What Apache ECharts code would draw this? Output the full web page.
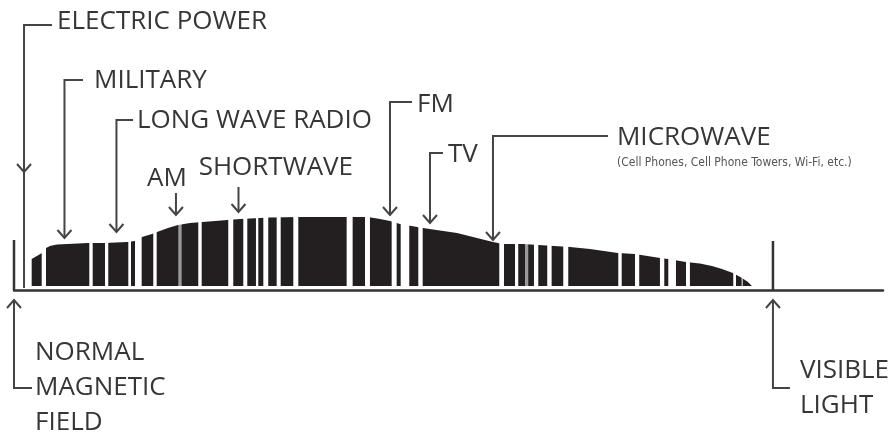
<!DOCTYPE html>
<html><head><meta charset="utf-8">
<script src="https://cdn.jsdelivr.net/npm/echarts@6/dist/echarts.min.js"></script>
<style>html,body{margin:0;padding:0;background:#fff}#c{width:893px;height:438px}</style>
</head><body><div id="c"></div>
<script>
// Spectrum position: 0 = normal magnetic field, 100 = visible light
// Envelope of the radio-frequency band (height above baseline)
const envX = [2.33, 2.33, 3.69, 4.22, 4.74, 5.67, 9.75, 11.99, 14.89, 15.94, 16.86, 18.18, 18.84, 20.29, 21.61, 23.19, 26.48, 29.78, 33.73, 37.68, 46.64, 48.22, 49.54, 50.86, 53.89, 58.37, 63.11, 64.43, 67.06, 73.25, 75.89, 79.58, 81.82, 85.11, 86.17, 88.54, 90.38, 91.96, 93.28, 94.73, 95.92, 96.71, 97.23];
const envTop = [4, 31, 37, 42, 44, 45.5, 47, 47, 48, 49, 53, 56, 58, 62, 65, 67, 69, 71, 72.5, 73, 73, 71, 69, 66, 62, 57, 48, 46, 46, 43, 41, 37, 36, 32, 31, 28, 26.5, 24, 21, 17, 12, 8, 4];
const bandBase = 4;
// White separations between individual bands
const gapStart = [3.65, 9.92, 11.99, 15.06, 15.94, 18.35, 21.65, 24.28, 28.23, 30.21, 31.88, 32.85, 34.61, 36.80, 43.83, 46.25, 49.76, 50.95, 53.27, 63.94, 66.01, 67.33, 68.51, 70.26, 72.37, 79.62, 81.82, 85.11, 86.21, 88.54, 94.77, 95.88];
const gapEnd   = [4.22, 10.37, 12.42, 15.42, 16.82, 18.80, 22.09, 24.73, 28.89, 30.74, 32.19, 33.50, 35.14, 37.46, 44.62, 46.90, 50.42, 52.08, 53.85, 64.56, 66.44, 67.76, 69.08, 70.84, 73.03, 80.07, 82.38, 85.68, 87.22, 89.06, 95.13, 96.01];
const gapFaint = [0, 0, 0, 0, 0, 0, 1, 0, 0, 0, 0, 0, 0, 0, 0, 0, 0, 0, 0, 0, 0, 1, 0, 0, 0, 0, 0, 0, 0, 0, 0, 0];
// Reference stems
const stemX = [0, 100];
const stemTop = [50, 49];
// Callouts
const calloutLabel = ['ELECTRIC POWER', 'MILITARY', 'LONG WAVE RADIO', 'AM', 'SHORTWAVE', 'FM', 'TV', 'MICROWAVE', 'NORMAL\nMAGNETIC\nFIELD', 'VISIBLE\nLIGHT'];
const calloutSub = ['', '', '', '', '', '', '', '(Cell Phones, Cell Phone Towers, Wi-Fi, etc.)', '', ''];
const calloutX      = [1.32, 6.65, 13.5, 21.34, 29.58, 49.54, 54.81, 63.11, 0, 100];
const calloutStartY = [265, 210, 170, 97, 103, 188, 137, 154, -98, -98];
const calloutTipY   = [2, 52, 58, 75, 78, 75, 67, 50, -10, -10];
const calloutElbowX = [5.01, 9.09, 15.68, null, null, 52.44, 56.52, 78.26, 2.37, 102.24];
const calloutTextX  = [5.67, 10.54, 16.2, 20.16, 34.5, 53.1, 57.18, 79.45, 2.77, 103.56];
const calloutTextY  = [268.5, 209, 169, 111, 122, 185, 135, 152, -98, -98];
const calloutAlign  = ['left', 'left', 'left', 'center', 'center', 'left', 'left', 'left', 'left', 'left'];
const calloutArrowY = [118, 52, 58, 75, 78, 75, 67, 50, -10, -10];

const INK = '#231f20', LINE = '#444', TXT = '#363636';
const FONT = "'Open Sans', 'Noto Sans', sans-serif";

const chart = echarts.init(document.getElementById('c'), null, {renderer: 'canvas'});
chart.setOption({
  animation: false,
  backgroundColor: '#fff',
  grid: {left: 14, right: 10, top: 0, bottom: 0},
  xAxis: {type: 'value', min: 0, max: 114.5,
    axisLine: {show: true, onZero: true, lineStyle: {color: '#333', width: 2.5}},
    axisTick: {show: false}, axisLabel: {show: false}, splitLine: {show: false}},
  yAxis: {type: 'value', min: -148, max: 290, show: false, splitLine: {show: false}},
  series: [
    {
      type: 'custom', z: 1, clip: false,
      data: [[0]],
      renderItem: function (params, api) {
        const pts = envX.map((x, k) => api.coord([x, envTop[k]]));
        return {type: 'polygon', shape: {points: pts}, style: {fill: INK, stroke: null}};
      }
    },
    {
      type: 'custom', z: 2, clip: false,
      data: gapStart.map((s, k) => [s, gapEnd[k]]),
      renderItem: function (params, api) {
        const k = params.dataIndex;
        const a = api.coord([gapStart[k], 75]);
        const b = api.coord([gapEnd[k], bandBase - 0.5]);
        return {type: 'rect', shape: {x: a[0], y: a[1], width: b[0] - a[0], height: b[1] - a[1]},
          style: {fill: gapFaint[k] ? 'rgba(255,255,255,0.55)' : '#fff'}};
      }
    },
    {
      type: 'custom', z: 3, clip: false,
      data: stemX.map((x, k) => [x, stemTop[k]]),
      renderItem: function (params, api) {
        const k = params.dataIndex;
        const a = api.coord([stemX[k], stemTop[k]]);
        const b = api.coord([stemX[k], 0]);
        return {type: 'line', shape: {x1: a[0], y1: a[1], x2: b[0], y2: b[1]},
          style: {stroke: '#333', lineWidth: 2.5}};
      }
    },
    {
      type: 'custom', z: 4, clip: false,
      data: calloutX.map((x, k) => [x, calloutTipY[k]]),
      renderItem: function (params, api) {
        const i = params.dataIndex;
        const top = api.coord([calloutX[i], calloutStartY[i]]);
        const tip = api.coord([calloutX[i], calloutTipY[i]]);
        const head = api.coord([calloutX[i], calloutArrowY[i]]);
        const pts = [];
        if (calloutElbowX[i] !== null) pts.push(api.coord([calloutElbowX[i], calloutStartY[i]]));
        pts.push(top, tip);
        const children = [{type: 'polyline', shape: {points: pts}, style: {stroke: LINE, lineWidth: 2, fill: 'none'}}];
        const dir = tip[1] > top[1] ? 1 : -1;
        children.push({type: 'polyline', shape: {points: [[head[0] - 7, head[1] - dir * 8], head, [head[0] + 7, head[1] - dir * 8]]},
          style: {stroke: LINE, lineWidth: 2, fill: 'none'}});
        const t = api.coord([calloutTextX[i], calloutTextY[i]]);
        children.push({type: 'text', x: t[0], y: t[1], style: {text: calloutLabel[i], fill: TXT,
          font: "26px " + FONT, align: calloutAlign[i], verticalAlign: 'middle', lineHeight: 35}});
        if (calloutSub[i]) {
          const s = api.coord([calloutTextX[i], calloutTextY[i] - 25]);
          children.push({type: 'text', x: s[0], y: s[1], style: {text: calloutSub[i], fill: '#555',
            font: "12px 'Liberation Sans Narrow', 'DejaVu Sans Condensed', sans-serif", align: 'left', verticalAlign: 'middle'}});
        }
        return {type: 'group', children: children};
      }
    }
  ]
});
</script></body></html>
